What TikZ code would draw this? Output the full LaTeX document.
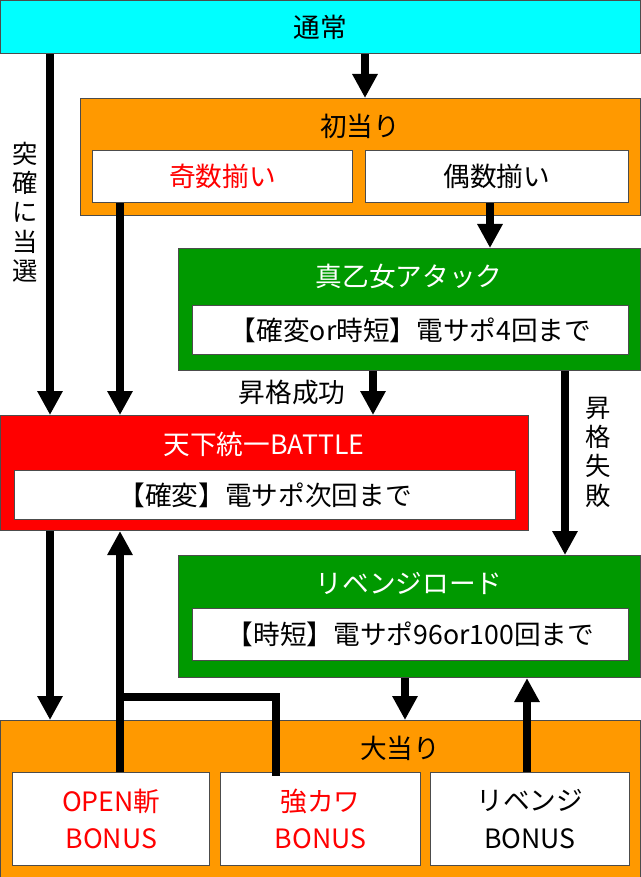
\documentclass[tikz,border=0pt]{standalone}
\usepackage{fontspec}
\setmainfont{Noto Sans CJK JP}
\usetikzlibrary{arrows.meta,positioning}
\definecolor{cyanbox}{RGB}{0,255,255}
\definecolor{orangebox}{RGB}{255,153,0}
\definecolor{greenbox}{RGB}{0,153,0}
\definecolor{redbox}{RGB}{255,0,0}
\definecolor{redtext}{RGB}{255,0,0}
\tikzset{
  box/.style={draw=black!70,line width=0.8pt,anchor=north west,inner sep=0pt},
  whitebox/.style={box,fill=white,font=\fontsize{20}{28}\selectfont,align=center},
  arr/.style={line width=6pt,-{Triangle[width=18pt,length=18pt]}},
  bar/.style={line width=6pt},
  lbl/.style={font=\fontsize{20}{24}\selectfont},
  vlbl/.style={font=\fontsize{19}{22}\selectfont,align=center}
}
\newcommand{\bx}[6]{% name, x1, y1, x2, y2, style
  \node[#6,minimum width={(#4-#2)*0.75pt},minimum height={(#5-#3)*0.75pt}] (#1) at (#2,#3) {};}
\begin{document}
\begin{tikzpicture}[x=0.75pt,y=-0.75pt]
\useasboundingbox (0,0) rectangle (640,877);
% main boxes
\bx{normal}{0}{0}{640}{53}{box,fill=cyanbox}
\node[lbl] at (normal.center) {通常};
\bx{first}{80}{98}{640}{215}{box,fill=orangebox}
\node[lbl] at (360,126) {初当り};
\node[whitebox,text=redtext,minimum width=195pt,minimum height=39pt] (odd) at (92,150) {奇数揃い};
\node[whitebox,minimum width=197pt,minimum height=39pt] (even) at (365,150) {偶数揃い};
\bx{attack}{178}{248}{640}{370}{box,fill=greenbox}
\node[lbl,text=white] at (409,276) {真乙女アタック};
\node[whitebox,minimum width=327pt,minimum height=37pt] (attackin) at (192,305) {【確変or時短】電サポ4回まで};
\bx{battle}{0}{415}{528}{530}{box,fill=redbox}
\node[lbl,text=white] at (264,444) {天下統一BATTLE};
\node[whitebox,minimum width=376pt,minimum height=37pt] (battlein) at (14,470) {【確変】電サポ次回まで};
\bx{revenge}{178}{555}{640}{677}{box,fill=greenbox}
\node[lbl,text=white] at (409,583) {リベンジロード};
\node[whitebox,minimum width=327pt,minimum height=39pt] (revengein) at (192,608) {【時短】電サポ96or100回まで};
\bx{big}{0}{720}{640}{877}{box,fill=orangebox}
\node[lbl] at (400,748) {大当り};
\node[whitebox,text=redtext,minimum width=148pt,minimum height=70pt] (open) at (12,772) {OPEN斬\\BONUS};
\node[whitebox,text=redtext,minimum width=150pt,minimum height=70pt] (kyou) at (220,772) {強カワ\\BONUS};
\node[whitebox,minimum width=149pt,minimum height=70pt] (rbonus) at (430,772) {リベンジ\\BONUS};
% connectors
\draw[arr] (normal.south -| 365,0) -- (first.north -| 365,0);
\draw[arr] (normal.south -| 50,0) -- (battle.north -| 50,0);
\draw[arr] (odd.south -| 120,0) -- (battle.north -| 120,0);
\draw[arr] (even.south -| 490,0) -- (attack.north -| 490,0);
\draw[arr] (attack.south -| 373,0) -- (battle.north -| 373,0);
\draw[arr] (attack.south -| 565,0) -- (revenge.north -| 565,0);
\draw[arr] (battle.south -| 50,0) -- (big.north -| 50,0);
\draw[arr] (open.north -| 120,0) -- (battle.south -| 120,0);
\coordinate (join) at (120,697);
\draw[bar,line cap=rect] (kyou.north -| 276,0) |- (join);
\draw[arr] (revenge.south -| 405,0) -- (big.north -| 405,0);
\draw[arr] (rbonus.north -| 527,0) -- (revenge.south -| 527,0);
% labels
\node[vlbl] at (25,212) {突\\確\\に\\当\\選};
\node[lbl] at (292,392) {昇格成功};
\node[vlbl] at (598,452) {昇\\格\\失\\敗};
\end{tikzpicture}
\end{document}
